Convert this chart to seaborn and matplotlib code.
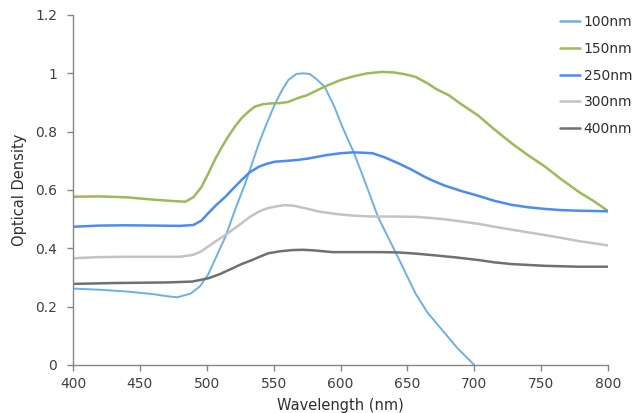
import numpy as np
import pandas as pd
import matplotlib
matplotlib.use("Agg")
import matplotlib.pyplot as plt
from matplotlib.ticker import FuncFormatter, MultipleLocator
import seaborn as sns

# ---- data ----
wl_100 = [400, 420, 440, 460, 470, 478, 488, 495, 501, 507, 514, 521, 529, 539, 545, 551,
          556, 561, 567, 572, 577, 582, 588, 595, 602, 610, 619, 628, 641, 656, 665, 674, 687, 700]
od_100 = [0.262, 0.258, 0.252, 0.243, 0.236, 0.232, 0.245, 0.27, 0.31, 0.37, 0.44, 0.53, 0.625,
          0.76, 0.83, 0.895, 0.94, 0.977, 0.998, 1.0, 0.998, 0.98, 0.955, 0.89, 0.81, 0.728, 0.62,
          0.508, 0.388, 0.246, 0.18, 0.131, 0.06, 0.0]

wl_150 = [400, 420, 440, 460, 475, 484, 490, 496, 501, 506, 511, 516, 521, 526, 531, 536, 542,
          548, 555, 561, 568, 575, 583, 590, 600, 610, 620, 631, 640, 648, 656, 665, 672, 681,
          690, 703, 715, 728, 740, 753, 765, 778, 790, 800]
od_150 = [0.577, 0.578, 0.575, 0.567, 0.562, 0.56, 0.575, 0.61, 0.655, 0.703, 0.745, 0.783,
          0.817, 0.846, 0.868, 0.886, 0.894, 0.897, 0.898, 0.902, 0.915, 0.925, 0.943, 0.958,
          0.977, 0.99, 1.0, 1.005, 1.003, 0.997, 0.988, 0.966, 0.945, 0.925, 0.895, 0.855,
          0.808, 0.76, 0.72, 0.68, 0.637, 0.594, 0.56, 0.528]

wl_250 = [400, 410, 420, 440, 460, 480, 490, 496, 501, 507, 514, 520, 526, 532, 539, 545, 551,
          560, 568, 576, 584, 590, 600, 609, 616, 624, 633, 643, 653, 663, 670, 678, 690, 703,
          715, 728, 740, 753, 765, 778, 790, 800]
od_250 = [0.474, 0.476, 0.478, 0.479, 0.478, 0.477, 0.48, 0.495, 0.52, 0.548, 0.577, 0.606,
          0.634, 0.66, 0.68, 0.69, 0.697, 0.7, 0.703, 0.708, 0.715, 0.72, 0.726, 0.729, 0.728,
          0.726, 0.712, 0.692, 0.67, 0.645, 0.63, 0.615, 0.597, 0.58, 0.563, 0.549, 0.541,
          0.535, 0.531, 0.529, 0.528, 0.527]

wl_300 = [400, 410, 420, 440, 460, 480, 490, 496, 501, 507, 514, 520, 526, 532, 539, 545, 551,
          558, 565, 574, 584, 598, 610, 624, 640, 656, 668, 681, 703, 720, 740, 760, 778, 800]
od_300 = [0.366, 0.368, 0.37, 0.371, 0.371, 0.371, 0.378, 0.39, 0.406, 0.425, 0.446, 0.466,
          0.486, 0.507, 0.526, 0.537, 0.543, 0.548, 0.546, 0.537, 0.526, 0.517, 0.512, 0.509,
          0.509, 0.508, 0.504, 0.498, 0.484, 0.47, 0.455, 0.44, 0.425, 0.41]

wl_400 = [400, 410, 430, 450, 470, 489, 501, 510, 519, 526, 534, 540, 546, 555, 564, 572, 580,
          594, 610, 630, 643, 656, 668, 686, 703, 715, 728, 753, 778, 800]
od_400 = [0.278, 0.279, 0.281, 0.282, 0.283, 0.286, 0.297, 0.312, 0.331, 0.346, 0.36, 0.372,
          0.383, 0.39, 0.394, 0.395, 0.393, 0.387, 0.387, 0.387, 0.386, 0.382, 0.377, 0.369,
          0.36, 0.352, 0.346, 0.34, 0.337, 0.337]

series_names = ["100nm", "150nm", "250nm", "300nm", "400nm"]
series_colors = ["#6CB0E8", "#9BBB59", "#4A8BF5", "#C3C3C3", "#707070"]

frames = []
for name, wl, od in zip(series_names,
                        [wl_100, wl_150, wl_250, wl_300, wl_400],
                        [od_100, od_150, od_250, od_300, od_400]):
    frames.append(pd.DataFrame({"Wavelength": wl, "OD": od, "Sample": name}))
df = pd.concat(frames, ignore_index=True)

# ---- drawing ----
sns.set_style("ticks")
plt.rcParams["font.family"] = ["DejaVu Sans"]

fig = plt.figure(figsize=(6.39, 4.13), dpi=100)
ax = fig.add_axes([73 / 639, 1 - 365 / 413, (608 - 73) / 639, (365 - 15) / 413])

sns.lineplot(data=df, x="Wavelength", y="OD", hue="Sample", hue_order=series_names,
             palette=dict(zip(series_names, series_colors)), sort=False,
             linewidth=1.8, ax=ax, legend=True)
for line, lw in zip(ax.lines, [1.4, 1.8, 1.8, 1.8, 1.8]):
    line.set_linewidth(lw)

ax.set_xlim(400, 800)
ax.set_ylim(0, 1.2)
ax.xaxis.set_major_locator(MultipleLocator(50))
ax.yaxis.set_major_locator(MultipleLocator(0.2))
ax.yaxis.set_major_formatter(FuncFormatter(lambda v, p: f"{v:g}"))

spine_col = "#868686"
for s in ["top", "right"]:
    ax.spines[s].set_visible(False)
for s in ["left", "bottom"]:
    ax.spines[s].set_color(spine_col)
    ax.spines[s].set_linewidth(1.0)
ax.tick_params(axis="both", colors=spine_col, length=4.5, width=1.0,
               labelcolor="#404040", labelsize=10)
ax.tick_params(axis="y", pad=7)
ax.tick_params(axis="x", pad=4)

ax.set_xlabel("Wavelength (nm)", fontsize=10.5, color="#303030", labelpad=5)
ax.set_ylabel("Optical Density", fontsize=10.5, color="#303030", labelpad=6)

leg = ax.legend(loc="upper left", bbox_to_anchor=(560 / 639, 1 - 15 / 413),
                bbox_transform=fig.transFigure, frameon=False, fontsize=10,
                handlelength=1.45, handletextpad=0.25, labelspacing=0.92,
                borderaxespad=0, borderpad=0)
for t in leg.get_texts():
    t.set_color("#303030")

fig.savefig("out.png", dpi=100)
